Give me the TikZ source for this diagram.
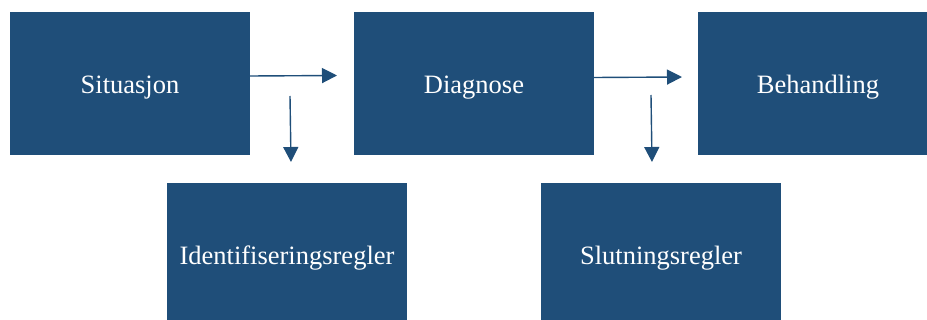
\documentclass[tikz,border=0pt]{standalone}
\usepackage{fontspec}
\setmainfont{Liberation Serif}
\usetikzlibrary{arrows.meta,calc}
\definecolor{boxblue}{HTML}{1F4E79}
\begin{document}
\begin{tikzpicture}[x=1pt,y=-1pt,
  box/.style={fill=boxblue,draw=none,minimum width=240pt,minimum height=143pt,inner sep=0pt,text height=25pt,text depth=5pt,text=white,font=\fontsize{26.5}{30}\selectfont},
  arr/.style={draw=boxblue,line width=1.4pt,-{Triangle[length=15pt,width=15pt]}}]
\useasboundingbox (0,0) rectangle (927,320);
\node[box] (sit) at (130,83.5) {Situasjon};
\node[box] (dia) at (474,83.5) {Diagnose};
\node[box] (beh) at (818,83.5) {Behandling};
\node[box] (ide) at (287,254.5) {Identifiseringsregler};
\node[box] (slu) at (661,254.5) {Slutningsregler};
\coordinate (a1) at (337,75.5);
\coordinate (a2) at (682,77);
\coordinate (d1s) at (290,96);
\coordinate (d1e) at (291,162);
\coordinate (d2s) at (651,95);
\coordinate (d2e) at (652,162);
\draw[arr] ($(sit.east)+(0,-7.5)$) -- (a1);
\draw[arr] ($(dia.east)+(0,-6)$) -- (a2);
\draw[arr] (d1s) -- (d1e);
\draw[arr] (d2s) -- (d2e);
\end{tikzpicture}
\end{document}
